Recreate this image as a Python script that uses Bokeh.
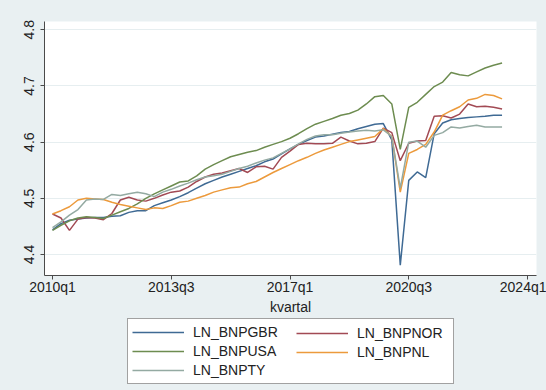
from bokeh.plotting import figure
from bokeh.layouts import column
from bokeh.models import Range1d, FixedTicker, Legend, LegendItem
from bokeh.embed import file_html
from bokeh.resources import INLINE

# Quarterly log GDP, 2010q1 - 2023q2
quarters = [f"{y}q{q}" for y in range(2010, 2024) for q in range(1, 5)][:54]

ln_bnpgbr = [4.444, 4.455, 4.461, 4.463, 4.465, 4.466, 4.466, 4.468, 4.469, 4.475,
             4.478, 4.478, 4.487, 4.492, 4.497, 4.503, 4.510, 4.518, 4.526, 4.532,
             4.538, 4.543, 4.548, 4.553, 4.558, 4.565, 4.570, 4.579, 4.588, 4.596,
             4.603, 4.609, 4.611, 4.614, 4.617, 4.619, 4.624, 4.628, 4.632, 4.633,
             4.604, 4.381, 4.532, 4.547, 4.537, 4.615, 4.634, 4.640, 4.642, 4.644,
             4.645, 4.646, 4.648, 4.648]
ln_bnpnor = [4.472, 4.465, 4.443, 4.463, 4.466, 4.465, 4.462, 4.473, 4.497, 4.502,
             4.497, 4.495, 4.500, 4.506, 4.511, 4.513, 4.520, 4.530, 4.538, 4.543,
             4.545, 4.549, 4.553, 4.546, 4.556, 4.557, 4.552, 4.573, 4.584, 4.596,
             4.598, 4.597, 4.597, 4.598, 4.609, 4.602, 4.597, 4.598, 4.601, 4.625,
             4.617, 4.567, 4.598, 4.602, 4.603, 4.646, 4.647, 4.643, 4.650, 4.668,
             4.663, 4.664, 4.662, 4.659]
ln_bnpusa = [4.443, 4.452, 4.460, 4.465, 4.467, 4.466, 4.464, 4.470, 4.476, 4.482,
             4.490, 4.500, 4.508, 4.515, 4.522, 4.529, 4.531, 4.540, 4.552, 4.560,
             4.567, 4.574, 4.578, 4.582, 4.585, 4.591, 4.596, 4.601, 4.607, 4.615,
             4.624, 4.632, 4.637, 4.642, 4.648, 4.651, 4.657, 4.668, 4.681, 4.683,
             4.668, 4.587, 4.662, 4.671, 4.685, 4.699, 4.707, 4.724, 4.720, 4.718,
             4.725, 4.732, 4.737, 4.741]
ln_bnpnl = [4.472, 4.478, 4.485, 4.497, 4.500, 4.499, 4.498, 4.493, 4.489, 4.486,
            4.483, 4.480, 4.483, 4.482, 4.487, 4.493, 4.495, 4.500, 4.505, 4.511,
            4.515, 4.519, 4.520, 4.526, 4.530, 4.538, 4.546, 4.553, 4.560, 4.567,
            4.573, 4.580, 4.586, 4.591, 4.596, 4.601, 4.604, 4.607, 4.610, 4.624,
            4.610, 4.511, 4.580, 4.587, 4.596, 4.618, 4.648, 4.656, 4.663, 4.675,
            4.678, 4.685, 4.683, 4.677]
ln_bnpty = [4.448, 4.458, 4.470, 4.480, 4.497, 4.499, 4.498, 4.507, 4.505, 4.508,
            4.511, 4.508, 4.503, 4.511, 4.516, 4.522, 4.527, 4.533, 4.538, 4.540,
            4.543, 4.548, 4.553, 4.557, 4.563, 4.568, 4.572, 4.580, 4.588, 4.597,
            4.605, 4.611, 4.613, 4.613, 4.616, 4.618, 4.620, 4.621, 4.620, 4.622,
            4.610, 4.518, 4.600, 4.602, 4.591, 4.612, 4.617, 4.627, 4.625, 4.628,
            4.630, 4.627, 4.627, 4.627]

x_tick_labels = ["2010q1", "2013q3", "2017q1", "2020q3", "2024q1"]
y_ticks = [4.4, 4.5, 4.6, 4.7, 4.8]


def quarter_index(label):
    year, q = label.split("q")
    return (int(year) - 2010) * 4 + int(q) - 1


x = [quarter_index(q) for q in quarters]
x_ticks = [quarter_index(t) for t in x_tick_labels]

FONT = "Liberation Sans"
BG = "#e9f0f2"
AXIS = "#4a4a4a"
TEXT = "#222222"

p = figure(width=537, height=305, title=None,
           x_range=Range1d(-0.943, 57.06), y_range=Range1d(4.3626, 4.8148),
           output_backend="svg", toolbar_location=None,
           min_border_left=35, min_border_right=10, min_border_top=8,
           min_border_bottom=43,
           background_fill_color="white", border_fill_color=BG,
           outline_line_color=None, margin=(13, 0, 0, 9))

series = [
    ("LN_BNPGBR", ln_bnpgbr, "#3f6a94"),
    ("LN_BNPNOR", ln_bnpnor, "#a24a54"),
    ("LN_BNPUSA", ln_bnpusa, "#6d8c50"),
    ("LN_BNPNL", ln_bnpnl, "#ec9a3c"),
    ("LN_BNPTY", ln_bnpty, "#94aaa2"),
]
for name, vals, color in series:
    p.line(x, vals, line_color=color, line_width=1.5)

# axes
for ax in (p.xaxis[0], p.yaxis[0]):
    ax.axis_line_color = AXIS
    ax.major_tick_line_color = AXIS
    ax.minor_tick_line_color = None
    ax.major_tick_out = 4
    ax.major_tick_in = 0
    ax.major_label_text_font = FONT
    ax.major_label_text_font_size = "14px"
    ax.major_label_text_color = TEXT

p.xaxis.ticker = FixedTicker(ticks=x_ticks)
p.xaxis.major_label_overrides = {t: lab for t, lab in zip(x_ticks, x_tick_labels)}
p.xaxis.major_label_standoff = -1
p.xaxis.axis_label = "kvartal"
p.xaxis.axis_label_text_font = FONT
p.xaxis.axis_label_text_font_size = "14px"
p.xaxis.axis_label_text_font_style = "normal"
p.xaxis.axis_label_text_color = TEXT
p.xaxis.axis_label_standoff = 1

p.yaxis.ticker = FixedTicker(ticks=y_ticks)
p.yaxis.major_label_orientation = "vertical"
p.yaxis.major_label_standoff = 6

p.xgrid.visible = False
p.ygrid.ticker = FixedTicker(ticks=y_ticks)
p.ygrid.grid_line_color = "#e6eef0"
p.ygrid.grid_line_width = 1

# legend strip under the plot: a boxed left column and an unboxed right column.
# Its frame lines up with the main plot's frame, so locations are relative to it.
lg = figure(width=537, height=72, title=None, output_backend="svg",
            toolbar_location=None, x_range=Range1d(0, 1), y_range=Range1d(0, 1),
            x_axis_location=None, y_axis_location=None,
            min_border_left=0, min_border_right=0, min_border_top=0,
            min_border_bottom=0, background_fill_color=BG,
            border_fill_color=BG, outline_line_color=None,
            margin=(0, 0, 0, 9))
lg.xgrid.visible = False
lg.ygrid.visible = False
# key lines sit outside the visible range; only their legend glyphs show
keys = {name: lg.line([5, 6], [5, 6], line_color=color, line_width=1.5)
        for name, _, color in series}

common = dict(label_text_font=FONT, label_text_font_size="14px",
              label_text_color=TEXT, glyph_width=52, glyph_height=18,
              label_height=18, label_standoff=9, spacing=1, padding=4,
              margin=0, orientation="vertical")
left = Legend(items=[LegendItem(label=n, renderers=[keys[n]])
                     for n in ("LN_BNPGBR", "LN_BNPUSA", "LN_BNPTY")],
              location=(83, 6), label_width=256,
              border_line_color="#444444", border_line_width=1,
              background_fill_color="white", background_fill_alpha=1.0,
              **common)
right = Legend(items=[LegendItem(label=n, renderers=[keys[n]])
                      for n in ("LN_BNPNOR", "LN_BNPNL")],
               location=(252, 29), border_line_color=None,
               background_fill_alpha=0.0, **common)
lg.add_layout(left, "center")
lg.add_layout(right, "center")

layout = column(p, lg, spacing=0, background=BG)
open("out.html", "w").write(file_html(layout, INLINE))
